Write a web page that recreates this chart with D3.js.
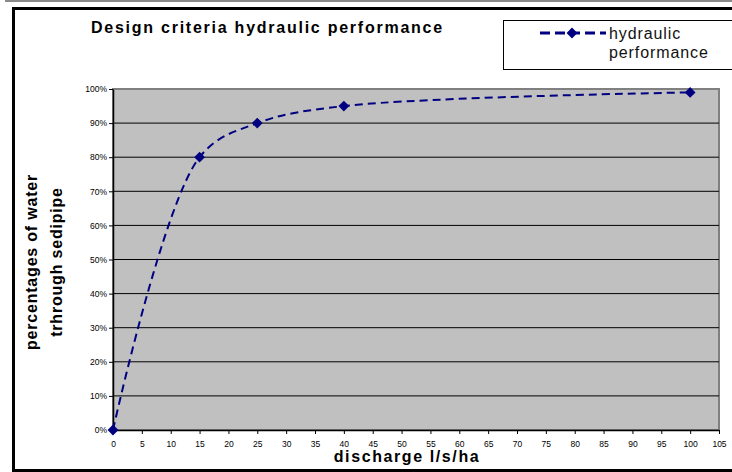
<!DOCTYPE html>
<html lang="en">
<head>
  <meta charset="UTF-8">
  <title>Design criteria hydraulic performance</title>
  <script src="https://d3js.org/d3.v7.min.js"></script>
  <style>
    body { margin: 0; background: #fff; }
    svg { display: block; font-family: "Liberation Sans", Arial, sans-serif; }
  </style>
</head>
<body>
  <div id="chart"></div>
  <script>
    // valores
    const discharge = [0, 15, 25, 40, 100];
    const performance = [0, 0.80, 0.90, 0.95, 0.99];
    const xTickValues = [0, 5, 10, 15, 20, 25, 30, 35, 40, 45, 50, 55, 60, 65, 70, 75, 80, 85, 90, 95, 100, 105];
    const yTickValues = [0, 0.1, 0.2, 0.3, 0.4, 0.5, 0.6, 0.7, 0.8, 0.9, 1];
    const seriesName = ["hydraulic", "performance"];
    const yTitle = ["percentages of water", "trhrough sedipipe"];

    const width = 732, height = 472;
    const plot = { left: 113, right: 719, top: 89, bottom: 430 };

    const svg = d3.select("#chart").append("svg")
      .attr("width", width)
      .attr("height", height);

    // linha cinza no topo e moldura preta
    svg.append("line")
      .attr("x1", 5).attr("x2", width).attr("y1", 1).attr("y2", 1)
      .attr("stroke", "#8a8a8a").attr("stroke-width", 2);
    svg.append("rect")
      .attr("x", 13.5).attr("y", 8.5)
      .attr("width", width + 20).attr("height", 462)
      .attr("fill", "#fff").attr("stroke", "#000").attr("stroke-width", 3);

    const x = d3.scaleLinear().domain([0, 105]).range([plot.left, plot.right]);
    const y = d3.scaleLinear().domain([0, 1]).range([plot.bottom, plot.top]);

    // area do grafico
    svg.append("rect")
      .attr("x", plot.left).attr("y", plot.top)
      .attr("width", plot.right - plot.left).attr("height", plot.bottom - plot.top)
      .attr("fill", "#c0c0c0").attr("stroke", "#808080").attr("stroke-width", 2);

    // linhas de grade
    svg.append("g")
      .selectAll("line")
      .data(yTickValues.filter(d => d > 0 && d < 1))
      .join("line")
      .attr("x1", plot.left).attr("x2", plot.right)
      .attr("y1", d => y(d)).attr("y2", d => y(d))
      .attr("stroke", "#000").attr("stroke-width", 1);

    // eixos
    const xAxis = svg.append("g")
      .attr("transform", `translate(0,${plot.bottom})`)
      .call(d3.axisBottom(x).tickValues(xTickValues).tickSize(4).tickPadding(7).tickSizeOuter(0));
    const yAxis = svg.append("g")
      .attr("transform", `translate(${plot.left},0)`)
      .call(d3.axisLeft(y).tickValues(yTickValues).tickFormat(d3.format(".0%")).tickSize(4).tickPadding(2).tickSizeOuter(0));

    [xAxis, yAxis].forEach(ax => {
      ax.select(".domain").attr("stroke", "#000").attr("stroke-width", 1.5);
      ax.selectAll(".tick line").attr("stroke", "#000");
      ax.selectAll("text").attr("fill", "#000").style("font-size", "8.5px").style("font-family", "Liberation Sans, Arial, sans-serif");
    });

    // serie suavizada
    const points = discharge.map((d, i) => [d, performance[i]]);
    const line = d3.line()
      .x(d => x(d[0]))
      .y(d => y(d[1]))
      .curve(d3.curveCatmullRom.alpha(0.5));

    svg.append("path")
      .datum(points)
      .attr("d", line)
      .attr("fill", "none")
      .attr("stroke", "#000080")
      .attr("stroke-width", 2)
      .attr("stroke-dasharray", "8,5");

    const diamond = d3.symbol().type(d3.symbolSquare).size(58);
    svg.append("g")
      .selectAll("path")
      .data(points)
      .join("path")
      .attr("d", diamond)
      .attr("transform", d => `translate(${x(d[0])},${y(d[1])}) rotate(45)`)
      .attr("fill", "#000080");

    // titulo
    svg.append("text")
      .attr("x", 91).attr("y", 33)
      .style("font-size", "16px").style("font-weight", "bold")
      .style("letter-spacing", "1.75px")
      .text("Design criteria hydraulic performance");

    // titulos dos eixos
    svg.append("text")
      .attr("x", 407).attr("y", 462)
      .attr("text-anchor", "middle")
      .style("font-size", "16px").style("font-weight", "bold")
      .style("letter-spacing", "1.6px")
      .text("discharge l/s/ha");

    svg.append("g")
      .attr("transform", "translate(0,262) rotate(-90)")
      .selectAll("text")
      .data(yTitle)
      .join("text")
      .attr("x", 0)
      .attr("y", (d, i) => 37 + i * 25)
      .attr("text-anchor", "middle")
      .style("font-size", "16px").style("font-weight", "bold")
      .style("letter-spacing", "0.8px")
      .text(d => d);

    // legenda
    const legend = svg.append("g");
    legend.append("rect")
      .attr("x", 503.5).attr("y", 20.5)
      .attr("width", 260).attr("height", 49)
      .attr("fill", "#fff").attr("stroke", "#000").attr("stroke-width", 1);
    legend.append("line")
      .attr("x1", 540).attr("x2", 606).attr("y1", 33).attr("y2", 33)
      .attr("stroke", "#000080").attr("stroke-width", 3)
      .attr("stroke-dasharray", "10,5");
    legend.append("path")
      .attr("d", diamond)
      .attr("transform", "translate(572,33) rotate(45)")
      .attr("fill", "#000080");
    legend.selectAll("text.lbl")
      .data(seriesName)
      .join("text")
      .attr("class", "lbl")
      .attr("x", 609)
      .attr("y", (d, i) => 38.5 + i * 19.5)
      .style("font-size", "16px")
      .style("letter-spacing", "0.9px")
      .attr("fill", "#111")
      .text(d => d);
  </script>
</body>
</html>
